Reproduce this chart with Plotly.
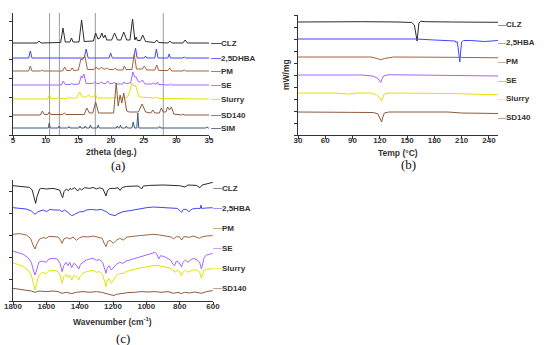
import plotly.graph_objects as go

# ---------------- (a) PXRD ----------------
xrd_names = ["CLZ", "2,5DHBA", "PM", "SE", "Slurry", "SD140", "SIM"]
xrd_colors = ["#2b2b2b", "#4343ff", "#a0643c", "#a466ff", "#e3e300", "#8c5a3c", "#3c5a7a"]
xrd_offsets = [92, 77, 64, 50, 36, 20, 7]

clz_x = [5, 8.7, 9.0, 9.3, 12.3, 12.65, 13.0, 13.7, 13.95, 14.2, 15.1, 15.5, 15.9, 17.3, 17.65, 18.0,
         18.3, 18.6, 18.85, 19.1, 19.35, 20.1, 20.55, 21.0, 21.5, 21.95, 22.4, 22.9, 23.3, 23.65, 23.85,
         24.05, 24.5, 24.85, 25.3, 26.7, 27.0, 27.3, 28.7, 29.0, 29.3, 31.0, 31.35, 31.7, 35]
clz_y = [0, 0, 2, 0, 0.5, 15, 1, 1, 5, 1, 1, 23, 1.5, 2, 10, 4, 5, 10, 5, 8, 3, 3, 10, 3, 3, 11, 3, 3,
         24, 3, 6, 2.5, 2.5, 8, 1.5, 0.5, 3, 0.5, 0, 2, 0, 0, 3, 0, 0]

dhba_x = [5, 7.4, 7.65, 7.9, 15.9, 16.2, 16.5, 19.7, 19.95, 20.2, 23.5, 23.75, 24.0, 25.1, 25.3, 25.5,
          26.7, 26.95, 27.2, 28.7, 28.9, 29.1, 31.0, 31.2, 31.4, 35]
dhba_y = [0, 0, 7, 0, 0, 9, 0, 0, 5, 0, 0, 10, 0, 0, 2, 0, 0, 9, 0, 0, 4, 0, 0, 1, 0, 0]

pm_x = [5, 7.4, 7.65, 7.9, 9.2, 9.4, 9.6, 12.6, 12.9, 13.2, 13.8, 14.05, 14.3, 15.0, 15.4, 15.6, 16.0,
        16.4, 17.4, 17.7, 18.0, 18.3, 18.55, 18.8, 19.2, 19.45, 19.7, 20.4, 20.65, 20.9, 21.8, 22.05,
        22.3, 23.2, 23.55, 23.9, 24.8, 25.1, 25.5, 26.7, 27.0, 27.3, 28.7, 29.0, 29.3, 31.0, 31.2, 31.4, 35]
pm_y = [0, 0, 5, 0, 0, 1, 0, 0, 4, 0.5, 0.5, 3, 0.5, 1, 12, 11, 15, 1.5, 1.5, 4, 2, 2, 4, 2, 2, 3, 1.5,
        1.5, 3, 1, 1, 5, 1.5, 1.5, 17, 2, 2, 5, 1, 1, 6, 0.5, 0.5, 3, 0, 0, 1, 0, 0]

se_x = [5, 12.4, 12.7, 13.0, 13.8, 14.0, 14.2, 15.1, 15.45, 15.6, 15.85, 16.2, 17.2, 17.5, 17.8, 18.2,
        18.5, 18.8, 19.2, 19.5, 19.8, 20.3, 20.5, 20.8, 21.8, 22.0, 22.3, 23.0, 23.35, 23.6, 23.85, 24.2,
        24.5, 24.8, 25.2, 26.3, 26.5, 26.7, 26.9, 27.1, 27.3, 28.9, 29.1, 29.3, 35]
se_y = [0, 0, 4, 0.5, 0.5, 2, 0.5, 1, 9, 7, 11, 1.5, 1.5, 3, 1.5, 1.5, 3, 1.5, 1.5, 4, 1.5, 1.5, 3, 1,
        1, 3, 1.5, 2, 13, 8, 8, 3, 3, 5, 1, 1, 2, 1, 1, 3, 0.5, 0, 1, 0, 0]

slurry_x = [5, 10.3, 10.55, 10.8, 11.8, 12.0, 12.2, 13.3, 13.5, 13.7, 14.7, 15.2, 15.6, 16.2, 16.55, 16.9,
            17.3, 17.6, 17.9, 20.3, 20.6, 20.9, 22.2, 22.5, 22.7, 22.9, 23.2, 23.5, 23.75, 24.3, 26.7,
            27.0, 27.3, 35]
slurry_y = [0, 0, 4, 0.5, 0.5, 2, 0.5, 0.5, 2, 1, 1, 7, 2, 2, 4, 2, 2, 5, 1, 1, 2, 1, 1, 2, 4, 10, 16,
            13, 14, 2, 1, 2, 0.5, 0]

sd140_x = [5, 9.2, 9.5, 9.8, 10.3, 10.55, 10.8, 12.6, 12.85, 13.1, 15.9, 16.3, 16.7, 17.2, 17.65, 18.1,
           20.4, 20.8, 21.1, 21.4, 21.65, 21.95, 22.4, 22.8, 24.2, 24.75, 25.3, 26.1, 26.4, 26.7, 27.4,
           27.7, 28.0, 28.4, 28.65, 28.95, 29.25, 29.6, 30.8, 31.0, 31.2, 35]
sd140_y = [0, 0, 4, 0.5, 0.5, 3, 0.5, 0.5, 2, 0.5, 0.5, 7, 2, 2, 13, 2, 2, 32, 9, 20, 12, 22, 4, 3, 3,
           11, 3, 2, 5, 2, 2, 7, 3, 3, 8, 5, 8, 1, 0, 1, 0, 0]

sim_x = [5, 10.4, 10.55, 10.7, 11.9, 12.05, 12.2, 13.4, 13.55, 13.7, 15.1, 15.25, 15.4, 15.9, 16.05, 16.2,
         16.7, 16.85, 17.0, 17.9, 18.05, 18.2, 20.8, 20.95, 21.1, 21.3, 21.45, 21.6, 22.2, 22.35, 22.5,
         23.2, 23.4, 23.6, 23.95, 24.1, 24.25, 27.3, 27.45, 27.6, 34.5, 34.7, 34.9, 35]
sim_y = [0, 0, 5, 0, 0, 2, 0, 0, 1.5, 0, 0, 2, 0, 0, 2, 0, 0, 3, 0, 0, 3, 0, 0, 2, 0, 0, 3, 0, 0, 2, 0,
         0, 6, 0, 0, 15, 0, 0, 1.5, 0, 0, 1, 0, 0]

xrd_x = [clz_x, dhba_x, pm_x, se_x, slurry_x, sd140_x, sim_x]
xrd_y = [clz_y, dhba_y, pm_y, se_y, slurry_y, sd140_y, sim_y]
ref_2theta = [10.6, 12.1, 17.6, 28.0]

# ---------------- (b) DSC ----------------
dsc_names = ["CLZ", "2,5HBA", "PM", "SE", "Slurry", "SD140"]
dsc_colors = ["#2b2b2b", "#4343ff", "#a0643c", "#a466ff", "#e3e300", "#8c5a3c"]
dsc_offsets = [113, 96, 78, 60, 42, 23]
dsc_label_y = [110, 92, 73, 54, 36, 17]

dsc_clz_x = [30, 60, 100, 140, 155, 158, 160, 161, 162, 163, 165, 170, 200, 250]
dsc_clz_y = [0, 0.3, 0.3, 0, -0.5, -3, -12, -19, -10, -1, 0.8, 0.3, 0, -0.3]
dsc_hba_x = [30, 100, 160, 180, 200, 203, 204, 205, 206, 207, 208, 209, 210, 212, 220, 235, 250]
dsc_hba_y = [0, 0, 0, -1, -1.5, -2, -3.5, -2.5, -8, -18, -23, -12, -3, -1.5, -1.5, -2.5, -1.5]
dsc_pm_x = [30, 80, 110, 117, 121, 125, 135, 200, 250]
dsc_pm_y = [0, 0.3, 0, -1.5, -2.8, -1.5, 0, -0.3, -0.8]
dsc_se_x = [30, 100, 112, 117, 120, 121, 122, 124, 130, 180, 250]
dsc_se_y = [0, 0, -1, -3, -6, -7.5, -5, -1, 0.3, 0, -1]
dsc_slurry_x = [30, 70, 85, 95, 110, 116, 119, 121, 122, 123, 125, 130, 200, 250]
dsc_slurry_y = [0, 0, -1, 0, 0, -1.5, -4, -7.5, -8, -5, -1, 0, -0.5, -1.8]
dsc_sd140_x = [30, 100, 113, 118, 120, 121, 122, 123, 125, 130, 195, 210, 250]
dsc_sd140_y = [0, 0, -0.5, -2, -6, -9, -10, -6, -1, 0, 0, -1, -1.5]

dsc_x = [dsc_clz_x, dsc_hba_x, dsc_pm_x, dsc_se_x, dsc_slurry_x, dsc_sd140_x]
dsc_y = [dsc_clz_y, dsc_hba_y, dsc_pm_y, dsc_se_y, dsc_slurry_y, dsc_sd140_y]

# ---------------- (c) FTIR ----------------
ir_names = ["CLZ", "2,5HBA", "PM", "SE", "Slurry", "SD140"]
ir_colors = ["#2b2b2b", "#4343ff", "#a0643c", "#a466ff", "#e3e300", "#8c5a3c"]
ir_offsets = [115.3, 93.3, 66.7, 50, 37.7, 12.7]
ir_label_y = [112.7, 92.7, 73.3, 52.7, 32.7, 12.7]

ir_clz_x = [1800, 1750, 1700, 1685, 1672, 1664, 1656, 1640, 1628, 1600, 1560, 1520, 1508, 1502, 1494, 1480,
            1468, 1458, 1448, 1430, 1412, 1400, 1388, 1370, 1340, 1320, 1300, 1280, 1260, 1250, 1242, 1234,
            1220, 1188, 1170, 1158, 1145, 1118, 1080, 1050, 1035, 1028, 1018, 980, 900, 850, 800, 768, 750,
            700, 678, 665, 640, 602]
ir_clz_y = [0, -1, -1.7, -4.3, -12.7, -17.7, -11, -3.3, -2.7, -3.3, -2.7, -4.3, -10, -12, -6, -3.3, -5,
            -2.7, -3.7, -2, -5.3, -2.7, -4.3, -2, -2.7, -1.7, -3.3, -2, -3.3, -7.7, -10.3, -5.3, -2.7, -2.7,
            -2, -4.7, -1.7, -0.7, -0.3, -0.3, -2, -3.3, -0.3, 0.3, 0.7, 0.7, 0, -1.3, 0.7, 0.3, -2, 0.7, 2, 3.3]

ir_hba_x = [1800, 1760, 1720, 1690, 1668, 1650, 1620, 1598, 1580, 1550, 1520, 1508, 1490, 1470, 1448, 1430,
            1400, 1378, 1360, 1330, 1298, 1270, 1240, 1218, 1200, 1188, 1170, 1140, 1100, 1078, 1040, 1000,
            958, 930, 900, 870, 838, 815, 800, 788, 778, 760, 745, 738, 725, 700, 676, 672, 668, 640, 602]
ir_hba_y = [0, -0.7, -1.3, -3.3, -6.7, -4, -2.3, -4, -1.7, -2.3, -2.3, -4, -2.3, -4.7, -8, -6.7, -4, -4,
            -2.3, -1.7, -2.3, -1.7, -4, -6.7, -7.3, -8, -6, -4, -3, -2.3, -0.7, 0, 0.7, 0.3, 0, -0.3, -0.7,
            -0.7, -2.7, -4.7, -1.7, -1.7, -4, -3.3, -1.3, -0.7, -0.7, 2.7, -0.7, -0.3, 0]

ir_pm_x = [1800, 1760, 1720, 1695, 1680, 1668, 1655, 1640, 1620, 1600, 1585, 1560, 1530, 1515, 1505, 1495,
           1475, 1458, 1440, 1418, 1400, 1380, 1350, 1320, 1290, 1265, 1250, 1242, 1232, 1218, 1198, 1180,
           1160, 1138, 1115, 1080, 1040, 1000, 960, 920, 880, 850, 838, 820, 800, 788, 775, 740, 720, 700,
           680, 668, 640, 602]
ir_pm_y = [0, 0.7, -0.7, -4, -10.7, -14.7, -9, -4.7, -3.3, -4, -2, -2.3, -2.7, -5.7, -9, -4.7, -3.3, -4.7,
           -2.7, -6, -3.3, -2.3, -2.7, -1.7, -2.7, -4, -10, -12.3, -7.3, -6, -9, -6, -4, -5.7, -2.7, -1.7,
           -1.3, -0.7, 0, -0.7, -1.7, -2.7, -4.7, -2.3, -2.7, -5.7, -2.3, -3, -1.7, -2.7, -4, -2.7, -1.7, -1.3]

ir_se_x = [1800, 1770, 1740, 1710, 1690, 1678, 1668, 1658, 1645, 1625, 1600, 1585, 1560, 1535, 1518, 1505,
           1495, 1482, 1470, 1460, 1448, 1435, 1420, 1405, 1395, 1380, 1360, 1340, 1320, 1300, 1280, 1262,
           1250, 1242, 1235, 1225, 1210, 1198, 1180, 1160, 1140, 1120, 1100, 1078, 1050, 1020, 990, 965,
           948, 935, 925, 915, 890, 870, 855, 840, 830, 820, 805, 790, 780, 765, 750, 735, 715, 695, 680,
           670, 665, 655, 640, 620, 602]
ir_se_y = [0, -1.3, -3.3, -6.7, -11.3, -19, -24, -19, -11.3, -10, -11.3, -8, -7.3, -8, -12.3, -20.7, -14.7,
           -11.3, -14.7, -11.3, -16.7, -12.3, -14, -18, -13.3, -11.3, -9, -8, -7.3, -9.3, -8.7, -11.3, -17.3,
           -22.3, -17.3, -14.7, -19, -16.7, -13.3, -11.3, -12.3, -10, -9, -8, -6.7, -5.7, -4, -2.3, -1.3, -4,
           -8, -4.7, -5.7, -7.3, -9, -13.3, -14.7, -10, -11.3, -15.7, -11.3, -9, -11.3, -9, -7.3, -9, -11.3,
           -18, -15.7, -7.3, -4, -3.3, -2.3]

ir_slurry_x = [1800, 1770, 1740, 1710, 1690, 1678, 1668, 1658, 1645, 1625, 1600, 1585, 1560, 1535, 1518,
               1505, 1495, 1482, 1470, 1460, 1448, 1435, 1420, 1405, 1395, 1380, 1360, 1340, 1320, 1300,
               1280, 1262, 1250, 1242, 1235, 1225, 1210, 1198, 1180, 1160, 1140, 1120, 1100, 1078, 1050,
               1020, 990, 960, 930, 900, 870, 850, 835, 825, 815, 800, 790, 780, 765, 750, 735, 715, 695,
               680, 670, 665, 655, 640, 602]
ir_slurry_y = [0, -1, -3.3, -6.7, -11.7, -20, -26.7, -20, -11.7, -9.3, -10, -7.7, -7, -7.7, -11.7, -20,
               -13.3, -11, -14.3, -11.7, -16.7, -12.3, -13.3, -16.7, -12.3, -10, -8.3, -7.7, -7, -9, -8.3,
               -11.7, -18.3, -23.3, -17.7, -15, -20, -16.7, -12.3, -10, -10.3, -8.3, -7.3, -6.3, -5, -4.3,
               -3.3, -2.3, -2.3, -3, -4.3, -5.7, -8.3, -9, -6.7, -8.3, -12.3, -9, -6.7, -9, -7.7, -6.3, -7,
               -9, -15, -13.3, -6.7, -5.7, -5.7]

ir_sd140_x = [1800, 1760, 1720, 1690, 1668, 1645, 1600, 1560, 1530, 1505, 1480, 1448, 1420, 1380, 1340,
              1300, 1270, 1240, 1215, 1195, 1180, 1150, 1110, 1070, 1030, 990, 950, 910, 870, 838, 810, 790,
              770, 740, 710, 690, 668, 640, 602]
ir_sd140_y = [0, -1, -1.7, -2.7, -4, -2.7, -3.3, -2.7, -3.3, -5, -4, -5.3, -4, -3.3, -4, -3.3, -4, -5.3,
              -6, -7.3, -6, -5, -4.3, -4, -3.3, -3.7, -3.3, -4, -3.3, -5, -4, -5.3, -4, -4.7, -3.7, -4.3, -5,
              -3.3, -2.3]

ir_x = [ir_clz_x, ir_hba_x, ir_pm_x, ir_se_x, ir_slurry_x, ir_sd140_x]
ir_y = [ir_clz_y, ir_hba_y, ir_pm_y, ir_se_y, ir_slurry_y, ir_sd140_y]

# ---------------- figure ----------------
W, H = 550, 345
fig = go.Figure()

def add_stack(xs, ys, offsets, colors, xa, ya):
    for x, y, off, c in zip(xs, ys, offsets, colors):
        fig.add_trace(go.Scatter(x=x, y=[v + off for v in y], mode="lines",
                                 line=dict(color=c, width=1), xaxis=xa, yaxis=ya,
                                 hoverinfo="skip", cliponaxis=False))

add_stack(xrd_x, xrd_y, xrd_offsets, xrd_colors, "x", "y")
add_stack(dsc_x, dsc_y, dsc_offsets, dsc_colors, "x2", "y2")
add_stack(ir_x, ir_y, ir_offsets, ir_colors, "x3", "y3")

tickfont = dict(family="Liberation Sans, Arial", size=8, color="#333", weight="bold")
axis_common = dict(showline=True, linecolor="#333", linewidth=1, ticks="outside", ticklen=3,
                   tickcolor="#333", showgrid=False, zeroline=False, tickfont=tickfont,
                   automargin=False)
xaxis_common = dict(axis_common, ticklabelstandoff=-6)

def px_x(p):
    return p / W

def px_y(p):
    return 1 - p / H

fig.update_layout(
    width=W, height=H, margin=dict(l=0, r=0, t=0, b=0, pad=0, autoexpand=False),
    paper_bgcolor="white", plot_bgcolor="white", showlegend=False,
    xaxis=dict(domain=[px_x(13), px_x(209)], range=[5, 35], dtick=5, anchor="y", **xaxis_common),
    yaxis=dict(domain=[px_y(135), px_y(13)], range=[0, 122], dtick=19, showticklabels=False,
               anchor="x", **axis_common),
    xaxis2=dict(domain=[px_x(298), px_x(498)], range=[30, 250], tickvals=list(range(30, 250, 30)),
                anchor="y2", **xaxis_common),
    yaxis2=dict(domain=[px_y(135), px_y(15)], range=[0, 120], dtick=12, showticklabels=False,
                anchor="x2", **axis_common),
    xaxis3=dict(domain=[px_x(13), px_x(213)], range=[1800, 600], tickvals=list(range(600, 1801, 200)),
                anchor="y3", **xaxis_common),
    yaxis3=dict(domain=[px_y(301), px_y(180)], range=[0, 121], dtick=22, showticklabels=False,
                anchor="x3", **axis_common),
)

# reference lines in (a)
for xv in ref_2theta:
    fig.add_shape(type="line", xref="x", yref="y domain", x0=xv, x1=xv, y0=0, y1=1,
                  line=dict(color="#9a9a9a", width=1), layer="below")

lab_font = dict(family="Liberation Sans, Arial", size=8, color="#333")

def add_labels(names, ys, colors, xref, yref, xval, dash_size, xshift):
    for n, yv, c in zip(names, ys, colors):
        fig.add_annotation(x=xval, y=yv, xref=xref, yref=yref, xanchor="left", yanchor="middle",
                           showarrow=False, font=lab_font, xshift=xshift,
                           text=f"<span style='color:{c};font-size:{dash_size}px'>—</span><b>{n}</b>")

add_labels(xrd_names, xrd_offsets, xrd_colors, "x", "y", 35, 10, 0)
add_labels(dsc_names, dsc_label_y, dsc_colors, "x2", "y2", 250, 8, -2)
add_labels(ir_names, ir_label_y, ir_colors, "x3", "y3", 600, 9, -2)

title_font = dict(family="Liberation Sans, Arial", size=8.5, color="#333")
panel_font = dict(family="Liberation Serif, Times New Roman", size=13, color="#111")

def ann(text, x, y, font, angle=0):
    fig.add_annotation(text=text, x=px_x(x), y=px_y(y), xref="paper", yref="paper",
                       showarrow=False, font=font, textangle=angle,
                       xanchor="center", yanchor="middle")

ann("<b>2theta (deg.)</b>", 111, 152, title_font)
ann("(a)", 118, 165, panel_font)
ann("<b>Temp (°C)</b>", 398, 153, title_font)
ann("<b>mW/mg</b>", 286, 75, title_font, -90)
ann("(b)", 408, 164, panel_font)
ann("<b>Wavenumber (cm<sup>-1</sup>)</b>", 112, 321, title_font)
ann("(c)", 123, 338, panel_font)

fig.write_html("out.html", config={"displayModeBar": False},
               post_script="document.body.style.margin='0';document.body.style.overflow='hidden';")
